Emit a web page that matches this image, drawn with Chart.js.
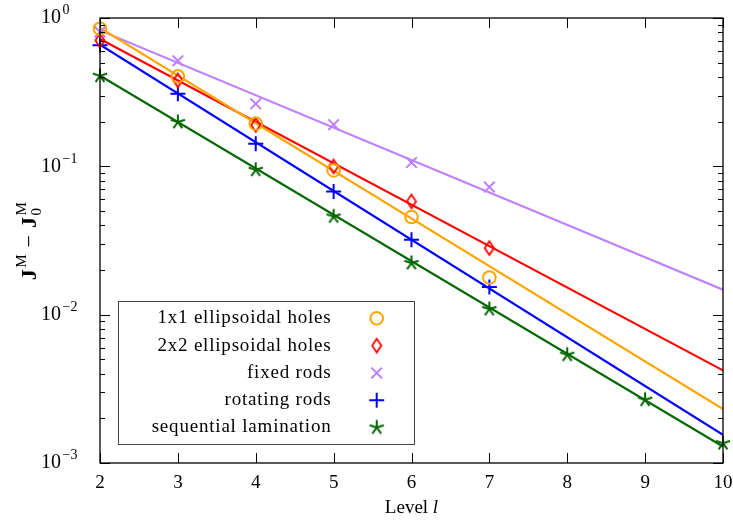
<!DOCTYPE html>
<html>
<head>
<meta charset="utf-8">
<script src="https://cdn.jsdelivr.net/npm/chart.js@4.4.1/dist/chart.umd.min.js"></script>
<style>
  html, body { margin: 0; padding: 0; background: #fff; }
  #wrap { width: 733px; height: 522px; }
</style>
</head>
<body>
<div id="wrap"><canvas id="errChart" width="733" height="522"></canvas></div>
<script>
// data
var levelsShort = [2, 3, 4, 5, 6, 7];
var levelsLong = [2, 3, 4, 5, 6, 7, 8, 9, 10];
var fitLevels = [2, 10];

var seriesNames = ["1x1 ellipsoidal holes", "2x2 ellipsoidal holes", "fixed rods", "rotating rods", "sequential lamination"];
var seriesColors = ["#FFA500", "#FF0000", "#BF80FF", "#0000FF", "#006600"];

var holes1x1 = [0.847, 0.404, 0.194, 0.0938, 0.0455, 0.0178];
var holes2x2 = [0.706, 0.380, 0.190, 0.0998, 0.058, 0.0281];
var fixedRods = [0.805, 0.515, 0.264, 0.191, 0.106, 0.0725];
var rotatingRods = [0.654, 0.309, 0.142, 0.0677, 0.0320, 0.01535];
var seqLamination = [0.408, 0.199, 0.0948, 0.0459, 0.0223, 0.0109, 0.00537, 0.00267, 0.00136];

// fitted lines, values at level 2 and level 10
var fitHoles1x1 = [0.856, 0.00231];
var fitHoles2x2 = [0.722, 0.00421];
var fitFixedRods = [0.825, 0.01472];
var fitRotatingRods = [0.661, 0.00155];
var fitSeqLamination = [0.408, 0.00129];

var yDecades = [-3, -2, -1, 0];

var serif = "'Liberation Serif', 'DejaVu Serif', serif";

function pts(xs, ys) {
  return xs.map(function(x, i) { return { x: x, y: ys[i] }; });
}

// custom marks (pgfplots style diamond and star)
function diamondMark(color) {
  var c = document.createElement('canvas');
  c.width = 14; c.height = 18;
  var g = c.getContext('2d');
  g.strokeStyle = color;
  g.lineWidth = 1.8;
  g.beginPath();
  g.moveTo(7, 2.2); g.lineTo(11.6, 9); g.lineTo(7, 15.8); g.lineTo(2.4, 9);
  g.closePath();
  g.stroke();
  return c;
}
function starMark(color) {
  var c = document.createElement('canvas');
  c.width = 18; c.height = 18;
  var g = c.getContext('2d');
  g.strokeStyle = color;
  g.lineWidth = 2;
  g.beginPath();
  for (var k = 0; k < 5; k++) {
    var a = -Math.PI / 2 + k * 2 * Math.PI / 5;
    g.moveTo(9, 9);
    g.lineTo(9 + 7.5 * Math.cos(a), 9 + 7.5 * Math.sin(a));
  }
  g.stroke();
  return c;
}

var markStyles = ['circle', diamondMark(seriesColors[1]), 'crossRot', 'cross', starMark(seriesColors[4])];
var markRadius = [6.3, 7, 7.5, 7.5, 8];

var markSets = [
  pts(levelsShort, holes1x1),
  pts(levelsShort, holes2x2),
  pts(levelsShort, fixedRods),
  pts(levelsShort, rotatingRods),
  pts(levelsLong, seqLamination)
];
var fitSets = [
  pts(fitLevels, fitHoles1x1),
  pts(fitLevels, fitHoles2x2),
  pts(fitLevels, fitFixedRods),
  pts(fitLevels, fitRotatingRods),
  pts(fitLevels, fitSeqLamination)
];

var datasets = [];
for (var i = 0; i < seriesNames.length; i++) {
  datasets.push({
    label: seriesNames[i],
    data: markSets[i],
    showLine: false,
    pointStyle: markStyles[i],
    pointRadius: markRadius[i],
    pointHoverRadius: markRadius[i],
    pointBorderWidth: 2,
    borderColor: seriesColors[i],
    backgroundColor: 'rgba(0,0,0,0)',
    clip: false
  });
}
for (var j = 0; j < seriesNames.length; j++) {
  datasets.push({
    label: seriesNames[j] + ' fit',
    data: fitSets[j],
    showLine: true,
    pointRadius: 0,
    borderColor: seriesColors[j],
    borderWidth: 2.2,
    fill: false
  });
}

// frame, inward ticks, labels and legend in pgfplots style
var framePlugin = {
  id: 'frame',
  afterDraw: function(chart) {
    var ctx = chart.ctx;
    var a = chart.chartArea;
    var xs = chart.scales.x, ys = chart.scales.y;
    ctx.save();
    ctx.strokeStyle = '#000';
    ctx.lineWidth = 1.3;
    ctx.strokeRect(a.left, a.top, a.right - a.left, a.bottom - a.top);

    ctx.lineWidth = 1;
    ctx.beginPath();
    for (var v = 2; v <= 10; v++) {
      var px = Math.round(xs.getPixelForValue(v)) + 0.5;
      ctx.moveTo(px, a.bottom); ctx.lineTo(px, a.bottom - 10);
      ctx.moveTo(px, a.top); ctx.lineTo(px, a.top + 10);
    }
    yDecades.forEach(function(d) {
      var base = Math.pow(10, d);
      var py = Math.round(ys.getPixelForValue(base)) + 0.5;
      ctx.moveTo(a.left, py); ctx.lineTo(a.left + 10, py);
      ctx.moveTo(a.right, py); ctx.lineTo(a.right - 10, py);
      if (d < 0) {
        for (var k = 2; k <= 9; k++) {
          var my = Math.round(ys.getPixelForValue(k * base)) + 0.5;
          ctx.moveTo(a.left, my); ctx.lineTo(a.left + 5, my);
          ctx.moveTo(a.right, my); ctx.lineTo(a.right - 5, my);
        }
      }
    });
    ctx.stroke();

    // y tick labels 10^d
    ctx.fillStyle = '#000';
    ctx.textBaseline = 'middle';
    ctx.textAlign = 'left';
    yDecades.forEach(function(d) {
      var py = ys.getPixelForValue(Math.pow(10, d));
      ctx.font = '20px ' + serif;
      ctx.fillText('10', 41, py);
      var w = ctx.measureText('10').width;
      ctx.font = '14px ' + serif;
      ctx.fillText(d === 0 ? '0' : '\u2212' + (-d), 41 + w + 1.5, py - 7.5);
    });

    // x title: Level l
    ctx.font = '19px ' + serif;
    var w1 = ctx.measureText('Level ').width;
    ctx.font = 'italic 19px ' + serif;
    var w2 = ctx.measureText('l').width;
    var cx = (a.left + a.right) / 2;
    var sx = cx - (w1 + w2) / 2;
    ctx.font = '19px ' + serif;
    ctx.fillText('Level ', sx, 508);
    ctx.font = 'italic 19px ' + serif;
    ctx.fillText('l', sx + w1, 508);

    // y title: J^M - J_0^M
    ctx.save();
    ctx.translate(30, (a.top + a.bottom) / 2);
    ctx.rotate(-Math.PI / 2);
    var parts = [
      { t: 'J', f: 'bold 22px ' + serif, dy: 0 },
      { t: 'M', f: '15px ' + serif, dy: -8 },
      { t: ' \u2212 ', f: '22px ' + serif, dy: 0 },
      { t: 'J', f: 'bold 22px ' + serif, dy: 0 },
      { t: 'M', f: '15px ' + serif, dy: -8, sub: '0' }
    ];
    var total = 0;
    parts.forEach(function(p) { ctx.font = p.f; p.w = ctx.measureText(p.t).width + 1.5; total += p.w; });
    var tx = -total / 2;
    parts.forEach(function(p) {
      ctx.font = p.f;
      ctx.fillText(p.t, tx, p.dy);
      if (p.sub) ctx.fillText(p.sub, tx, 7);
      tx += p.w;
    });
    ctx.restore();

    // legend
    ctx.strokeStyle = '#444';
    ctx.lineWidth = 1;
    ctx.strokeRect(118.5, 301.5, 296, 143);
    ctx.font = '19px ' + serif;
    ctx.textAlign = 'right';
    ctx.letterSpacing = '0.8px';
    for (var i = 0; i < seriesNames.length; i++) {
      var ly = 318.3 + i * 27.3;
      ctx.fillStyle = '#000';
      ctx.fillText(seriesNames[i], 331.5, ly);
      var ds = chart.data.datasets[i];
      ctx.strokeStyle = ds.borderColor;
      ctx.fillStyle = 'rgba(0,0,0,0)';
      ctx.lineWidth = 2;
      Chart.helpers.drawPoint(ctx, {
        pointStyle: ds.pointStyle,
        radius: ds.pointRadius,
        borderWidth: 2,
        rotation: 0
      }, 376.7, ly);
    }
    ctx.letterSpacing = '0px';
    ctx.restore();
  }
};

var ctxE = document.getElementById('errChart').getContext('2d');
var errChart = new Chart(ctxE, {
  type: 'scatter',
  data: { datasets: datasets },
  options: {
    responsive: false,
    animation: false,
    events: [],
    layout: { padding: { top: 18, right: 0, left: 0, bottom: 0 } },
    plugins: {
      legend: { display: false },
      tooltip: { enabled: false }
    },
    scales: {
      x: {
        type: 'linear',
        min: 2,
        max: 10,
        grid: { display: false, drawTicks: false },
        border: { display: false },
        ticks: {
          stepSize: 1,
          padding: 9,
          color: '#000',
          font: { family: serif, size: 19 }
        },
        afterFit: function(scale) {
          scale.height = 59;
          scale.paddingRight = 10;
        }
      },
      y: {
        type: 'logarithmic',
        min: 0.001,
        max: 1,
        grid: { display: false, drawTicks: false },
        border: { display: false },
        ticks: { display: false },
        afterFit: function(scale) { scale.width = 100; }
      }
    }
  },
  plugins: [framePlugin]
});
</script>
</body>
</html>
